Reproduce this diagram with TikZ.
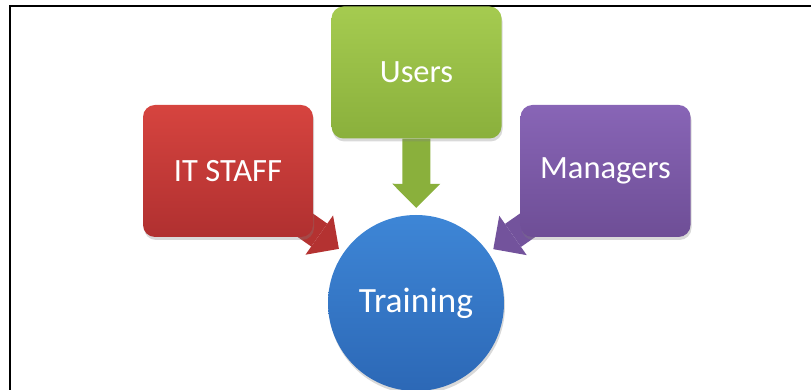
\documentclass[tikz,border=0pt]{standalone}
\usepackage{fontspec}
\setmainfont{Carlito}
\usetikzlibrary{arrows.meta,shadows,backgrounds}

\definecolor{staffred}{RGB}{214,68,63}
\definecolor{staffreddark}{RGB}{176,48,48}
\definecolor{usersgreen}{RGB}{165,203,80}
\definecolor{usersgreendark}{RGB}{138,176,60}
\definecolor{managerspurple}{RGB}{136,101,182}
\definecolor{managerspurpledark}{RGB}{110,78,150}
\definecolor{trainingblue}{RGB}{62,134,214}
\definecolor{trainingbluedark}{RGB}{44,104,182}

\begin{document}
\begin{tikzpicture}[x=1pt,y=1pt,
  box/.style={rounded corners=12pt, minimum width=170pt, minimum height=132pt,
    text=white, font=\fontsize{32.5}{36}\selectfont,
    drop shadow={opacity=0.3,shadow xshift=1pt,shadow yshift=-3pt}},
  flow/.style={line width=28pt, -{Triangle[width=48pt,length=24pt,line width=0pt]}}]

\useasboundingbox (0,0) rectangle (811,390);

%frame lines at top and left
\draw[line width=2.6pt, black] (10,0) -- (10,384) -- (811,384);

%the three boxes
\node[box, top color=usersgreen, bottom color=usersgreendark] (users) at (416.5,317.5) {Users};
\node[box, top color=staffred, bottom color=staffreddark] (itstaff) at (228,219) {IT STAFF};
\node[box, top color=managerspurple, bottom color=managerspurpledark] (managers) at (605.5,219) {Managers};

%the circle in the middle
\node[circle, minimum size=176pt, inner sep=0pt, text=white,
  font=\fontsize{35.5}{40}\selectfont,
  top color=trainingblue, bottom color=trainingbluedark,
  drop shadow={opacity=0.3,shadow xshift=1pt,shadow yshift=-3pt}] (training) at (416,87) {Training};

%block arrows behind the boxes
\begin{pgfonlayer}{background}
\draw[flow, usersgreendark, shorten >=7pt] (users) -- (training);
\draw[flow, staffreddark!90!staffred, shorten >=6pt] (itstaff.center) -- (training);
\draw[flow, managerspurpledark!80!managerspurple, shorten >=6pt] (managers.center) -- (training);
\end{pgfonlayer}

\end{tikzpicture}
\end{document}
